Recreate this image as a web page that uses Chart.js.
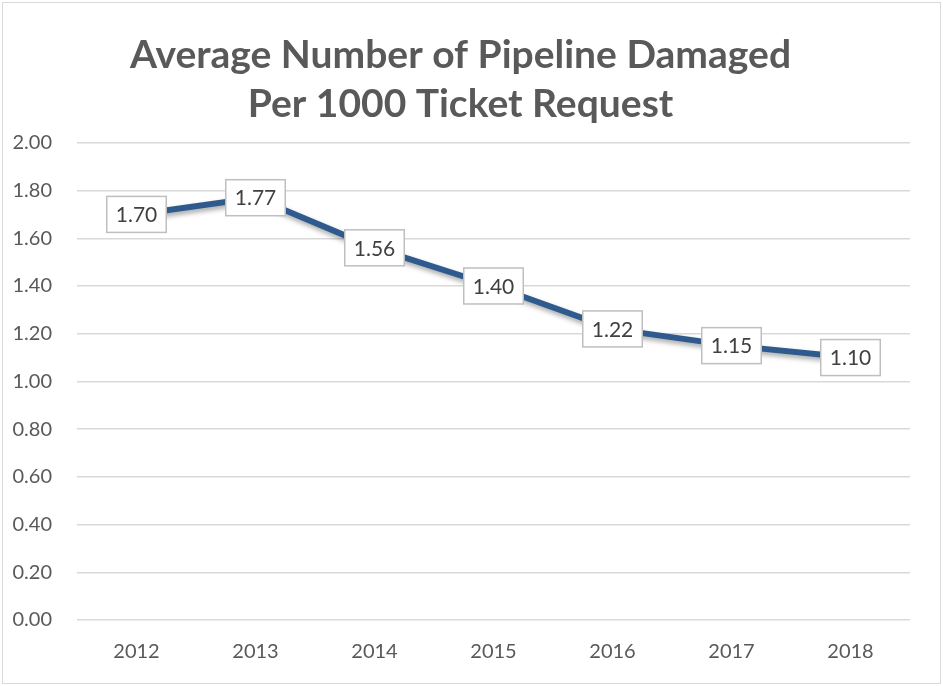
<!DOCTYPE html>
<html>
<head>
<meta charset="utf-8">
<script src="https://cdn.jsdelivr.net/npm/chart.js@4.4.1/dist/chart.umd.min.js"></script>
<style>
  html, body { margin: 0; padding: 0; background: #ffffff; }
  #frame { position: absolute; left: 2px; top: 2px; width: 939px; height: 682px; border: 1px solid #d9d9d9; box-sizing: border-box; background: #fff; }
  #c { position: absolute; left: 0; top: 0; }
</style>
</head>
<body>
<div id="frame"><canvas id="c" width="910" height="678"></canvas></div>
<script>
const titleLines = ["Average Number of Pipeline Damaged", "Per 1000 Ticket Request"];
const years = ["2012", "2013", "2014", "2015", "2016", "2017", "2018"];
const damagesPer1000 = [1.70, 1.77, 1.56, 1.40, 1.22, 1.15, 1.10];
const yMin = 0, yMax = 2, yStep = 0.2;

const FONT = "Lato, 'Open Sans', 'Liberation Sans', sans-serif";
const TEXT_GREY = "#595959";

const shadowPlugin = {
  id: 'lineShadow',
  beforeDatasetDraw(chart) {
    const ctx = chart.ctx;
    ctx.save();
    ctx.shadowColor = 'rgba(0,0,0,0.35)';
    ctx.shadowBlur = 5;
    ctx.shadowOffsetX = 1;
    ctx.shadowOffsetY = 3;
  },
  afterDatasetDraw(chart) {
    chart.ctx.restore();
  }
};

const labelBoxPlugin = {
  id: 'labelBoxes',
  afterDatasetsDraw(chart) {
    const ctx = chart.ctx;
    const meta = chart.getDatasetMeta(0);
    const data = chart.data.datasets[0].data;
    ctx.save();
    ctx.font = "21px " + FONT;
    ctx.textAlign = 'center';
    ctx.textBaseline = 'middle';
    meta.data.forEach((pt, i) => {
      const txt = Number(data[i]).toFixed(2);
      const w = ctx.measureText(txt).width + 18;
      const h = 36;
      const x = pt.x - w / 2, y = pt.y - h / 2;
      ctx.fillStyle = '#ffffff';
      ctx.fillRect(x, y, w, h);
      ctx.strokeStyle = '#bfbfbf';
      ctx.lineWidth = 1.5;
      ctx.strokeRect(x, y, w, h);
      ctx.fillStyle = '#404040';
      ctx.fillText(txt, pt.x, pt.y + 1);
    });
    ctx.restore();
  }
};

new Chart(document.getElementById('c'), {
  type: 'line',
  data: {
    labels: years,
    datasets: [{
      data: damagesPer1000,
      borderColor: '#2F5A8E',
      borderWidth: 6,
      pointRadius: 0,
      tension: 0,
      fill: false
    }]
  },
  options: {
    responsive: false,
    animation: false,
    devicePixelRatio: 1,
    layout: { padding: { left: 8, right: 3, top: 0, bottom: 0 } },
    plugins: {
      legend: { display: false },
      tooltip: { enabled: false },
      title: {
        display: true,
        text: titleLines,
        color: TEXT_GREY,
        font: { family: FONT, size: 39, weight: 'bold', lineHeight: 1.28 },
        padding: { top: 27, bottom: 13 }
      }
    },
    scales: {
      x: {
        offset: true,
        afterFit(scale) { scale.height = 61; },
        grid: { display: false, drawTicks: false },
        border: { display: false },
        ticks: { color: TEXT_GREY, font: { family: FONT, size: 20 }, padding: 20 }
      },
      y: {
        min: yMin,
        max: yMax,
        afterFit(scale) { scale.width = 66; },
        border: { display: false },
        grid: { color: '#d9d9d9', lineWidth: 1.5, drawTicks: false },
        ticks: {
          stepSize: yStep,
          color: TEXT_GREY,
          font: { family: FONT, size: 20 },
          padding: 25,
          callback: v => Number(v).toFixed(2)
        }
      }
    }
  },
  plugins: [shadowPlugin, labelBoxPlugin]
});
</script>
</body>
</html>
